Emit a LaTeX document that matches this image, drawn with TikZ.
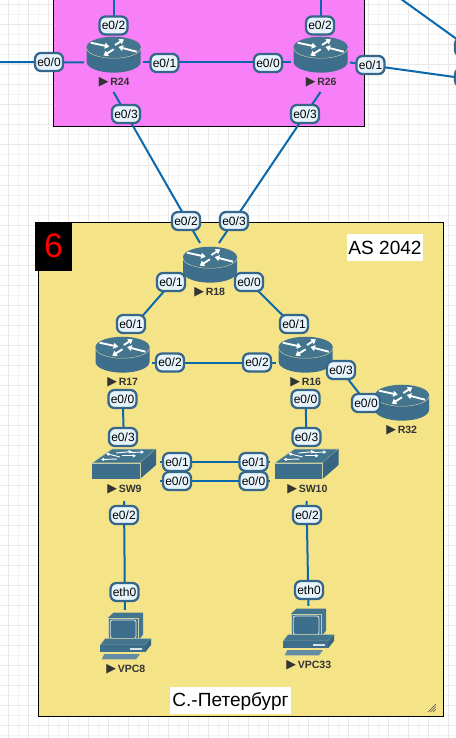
\documentclass[tikz,border=0pt]{standalone}
\usepackage{fontspec}
\setmainfont{Liberation Sans}
\newfontfamily\symfont{DejaVu Sans}
\usetikzlibrary{arrows.meta,calc}
\definecolor{linkblue}{HTML}{0A69AD}
\definecolor{iconblue}{HTML}{3D6F8D}
\definecolor{icontop}{HTML}{44758F}
\definecolor{iconedge}{HTML}{C9CFA0}
\definecolor{ifborder}{HTML}{35678A}
\definecolor{iffill}{HTML}{E8F4FC}
\definecolor{labelgrey}{HTML}{333333}
\definecolor{magentazone}{HTML}{F77FF7}
\definecolor{yellowzone}{HTML}{F5E388}
\definecolor{gridmajor}{HTML}{E8E8E8}
\definecolor{gridminor}{HTML}{F3F3F3}
\tikzset{
  x=0.75pt,y=-0.75pt,
  link/.style={draw=linkblue,line width=1.5pt},
  ifbox/.style={draw=ifborder,line width=1.7pt,fill=iffill,rounded corners=4.5pt,
    minimum width=21pt,minimum height=13.5pt,inner sep=0pt,font=\fontsize{9}{10}\selectfont,text=black},
  device/.style={minimum width=44.25pt,minimum height=44.25pt,inner sep=0pt,outer sep=0pt},
  pcbox/.style={minimum width=40.5pt,minimum height=50pt,inner sep=0pt,outer sep=0pt},
  devname/.style={inner sep=0pt,font=\fontsize{7.9}{10}\selectfont\bfseries,text=labelgrey},
  arr/.style={draw=white,line width=1.4pt,-{Triangle[width=4.4pt,length=3.4pt]}},
  zonetext/.style={inner sep=0pt,font=\fontsize{14.3}{16}\selectfont,text=black}
}
\newcommand{\routericon}[2]{%
  \begin{scope}[shift={(#1,#2)}]
    \fill[iconblue] (-27,0) -- (-27,15) arc[start angle=180,end angle=360,x radius=20.25pt,y radius=8pt] -- (27,0) -- cycle;
    \fill[icontop] (0,0) ellipse[x radius=20.25pt,y radius=7.7pt];
    \draw[iconedge,line width=0.35pt] (-27,1) arc[start angle=180,end angle=360,x radius=20.25pt,y radius=7.7pt];
    \draw[arr] (-23,-4.3) -- (-4.3,-0.3);
    \draw[arr] (1.3,-2) -- (10.3,-7.7);
    \draw[arr] (23,4.7) -- (4.7,0);
    \draw[arr] (0,2.3) -- (-10.3,8.7);
  \end{scope}}
\newcommand{\switchicon}[2]{%
  \begin{scope}[shift={(#1,#2)}]
    \fill[icontop,draw=iconedge,line width=0.4pt] (0,15) -- (20,1) -- (64,1) -- (48,15) -- cycle;
    \fill[iconblue] (0,15) rectangle (48,31);
    \fill[iconblue!92!black] (48,15) -- (64,1) -- (64,17) -- (48,31) -- cycle;
    \draw[iconedge,line width=0.4pt] (48,15) -- (48,31) (48,15) -- (0,15);
    \begin{scope}[arr/.append style={line width=0.7pt,-{Triangle[width=2.4pt,length=2.4pt]}}]
      \draw[arr] (24,5) -- (40,3.5);
      \draw[arr] (38,4.5) -- (52,4);
      \draw[arr] (28,9) -- (14,5.5);
      \draw[arr] (30,7.8) -- (44,7.8);
      \draw[arr] (25,11) -- (9,11.5);
    \end{scope}
  \end{scope}}
\newcommand{\pcicon}[2]{%
  \begin{scope}[shift={(#1,#2)}]
    \fill[icontop] (8,5) -- (13.5,0) -- (43,0) -- (43,22) -- (38,28) -- cycle;
    \fill[iconblue,draw=iconedge,line width=0.3pt] (8,5) rectangle (38,28);
    \draw[white!85!iconblue,line width=0.6pt,rounded corners=1.5pt] (10.3,7.3) rectangle (36,25.7);
    \fill[icontop,draw=iconedge,line width=0.3pt] (5,25.7) -- (51,25.7) -- (45,32.3) -- (0,32.3) -- cycle;
    \fill[iconblue] (0,32.3) rectangle (45,39.7);
    \fill[iconblue!90!black] (45,32.3) -- (51,25.7) -- (51,32.3) -- (45,39.7) -- cycle;
    \fill[white!80!iconblue] (30,35.6) rectangle (41.7,37);
    \fill[iconblue!80!white] (4.3,41.3) -- (40,41.3) -- (36,46.7) -- (1.7,46.7) -- cycle;
  \end{scope}}
\newcommand{\devlabel}[3]{\node[devname,anchor=west] (#3) at (#1) {{\symfont\mdseries\fontsize{9.5}{10}\selectfont ▶}\,#2};}
\begin{document}
\begin{tikzpicture}
\useasboundingbox (0,0) rectangle (456,738);
\fill[white] (0,0) rectangle (456,738);
% grid
\foreach \gx in {8,48,...,448} {\draw[gridminor,line width=0.75pt] (\gx+10,0) -- (\gx+10,738) (\gx+30,0) -- (\gx+30,738);}
\foreach \gy in {15,55,...,735} {\draw[gridminor,line width=0.75pt] (0,\gy) -- (456,\gy) (0,\gy+20) -- (456,\gy+20);}
\foreach \gx in {8,28,...,448} {\draw[gridmajor,line width=0.75pt] (\gx,0) -- (\gx,738);}
\foreach \gy in {5,25,...,725} {\draw[gridmajor,line width=0.75pt] (0,\gy) -- (456,\gy);}
% zones
\fill[magentazone,draw=black,line width=0.75pt] (53.5,-5) rectangle (364.5,126.5);
\fill[yellowzone,draw=black,line width=0.75pt] (38.5,222.5) rectangle (443.5,716.5);
\fill[black] (35,222) rectangle (72,271);
\node[inner sep=0pt,text=red,font=\fontsize{25.5}{30}\selectfont] (asnum) at (53.5,245.5) {6};
\fill[white] (347,234) rectangle (423,261);
\node[zonetext] (asname) at (385,247.5) {AS 2042};
\fill[white] (170,687) rectangle (291,714);
\node[zonetext] (cityname) at (230.5,701.5) {С.-Петербург};
% resize handle
\draw[black!70,line width=0.4pt] (428,712) -- (436,704) (430.5,712) -- (436,706.5) (433,712) -- (436,709);
% device anchors
\node[device] (R24) at (113.5,62.5) {};
\node[device] (R26) at (320.5,62.5) {};
\node[device] (R18) at (210,272.5) {};
\node[device] (R17) at (122.5,362.5) {};
\node[device] (R16) at (305.5,362.5) {};
\node[device] (R32) at (402,410.5) {};
\node[device,minimum width=54pt] (SW9) at (124,471.5) {};
\node[device,minimum width=54.75pt] (SW10) at (306.5,471.5) {};
\node[pcbox] (VPC8) at (125,643.3) {};
\node[pcbox] (VPC33) at (308.5,639.3) {};
\coordinate (topL) at (113.5,-2);
\coordinate (topR) at (320.5,-2);
\coordinate (farL) at (-2,62);
\coordinate (farUR) at (401,-1);
\coordinate (farUE) at (458,40);
\coordinate (farLR) at (458,77.5);
% links
\draw[link] (topL) -- (R24.north);
\draw[link] (topR) -- (R26.north);
\draw[link] (farL) -- (R24.west);
\draw[link] (R24.east) -- (R26.west);
\draw[link] (R26.east) -- (farLR);
\draw[link] (farUR) -- (farUE);
\draw[link] (R24.south) -- ($(R18.north)+(-10,0)$);
\draw[link] (R26.south) -- ($(R18.north)+(9,0)$);
\draw[link] (R18.west) -- ($(R17.north)+(5,0)$);
\draw[link] (R18.east) -- ($(R16.north)+(-5,0)$);
\draw[link] (R17.east) -- (R16.west);
\draw[link] (R16.east) -- (R32.west);
\draw[link] (R17.south) -- (SW9.north);
\draw[link] (R16.south) -- (SW10.north);
\draw[link] ($(SW9.east)+(0,-9.5)$) -- ($(SW10.west)+(0,-9.5)$);
\draw[link] ($(SW9.east)+(0,9.5)$) -- ($(SW10.west)+(0,9.5)$);
\draw[link] (SW9.south) -- (VPC8.north);
\draw[link] (SW10.south) -- (VPC33.north);
% icons
\routericon{113.7}{47}
\routericon{320.7}{47}
\routericon{210}{257}
\routericon{122.5}{347}
\routericon{305.7}{347}
\routericon{402}{395}
\switchicon{92}{448}
\switchicon{274.5}{448}
\pcicon{100}{612.7}
\pcicon{283}{608.7}
% device names
\devlabel{98.5,82}{R24}{nR24}
\devlabel{305.5,82}{R26}{nR26}
\devlabel{194,292}{R18}{nR18}
\devlabel{107,382}{R17}{nR17}
\devlabel{290,382}{R16}{nR16}
\devlabel{386,430}{R32}{nR32}
\devlabel{107,489}{SW9}{nSW9}
\devlabel{287,489}{SW10}{nSW10}
\devlabel{106,669}{VPC8}{nVPC8}
\devlabel{286,665}{VPC33}{nVPC33}
% interface labels
\foreach \ix/\iy/\it in {
  113.5/25.5/e0\slash 2,320/25.5/e0\slash 2,49/62/e0\slash 0,164.5/63/e0\slash 1,268/63/e0\slash 0,370.5/65/e0\slash 1,
  126/114/e0\slash 3,305/114/e0\slash 3,186/221/e0\slash 2,234/221/e0\slash 3,
  171/282/e0\slash 1,249/282/e0\slash 0,131/324/e0\slash 1,294/324/e0\slash 1,
  170/362.5/e0\slash 2,257/362.5/e0\slash 2,341/370/e0\slash 3,366/403/e0\slash 0,
  122.5/399/e0\slash 0,305.5/399/e0\slash 0,123/437/e0\slash 3,306.5/437/e0\slash 3,
  177/462/e0\slash 1,253.5/462/e0\slash 1,177/481/e0\slash 0,253.5/481/e0\slash 0,
  124/515/e0\slash 2,307/515/e0\slash 2,124.5/592/eth0,309/590/eth0}
  {\node[ifbox] at (\ix,\iy) {\it};}
% interface labels cut by the right edge of the view: their text lies outside the picture
\node[ifbox] (cutA) at (469,47) {};
\node[ifbox] (cutB) at (469,77.5) {};
\end{tikzpicture}
\end{document}
